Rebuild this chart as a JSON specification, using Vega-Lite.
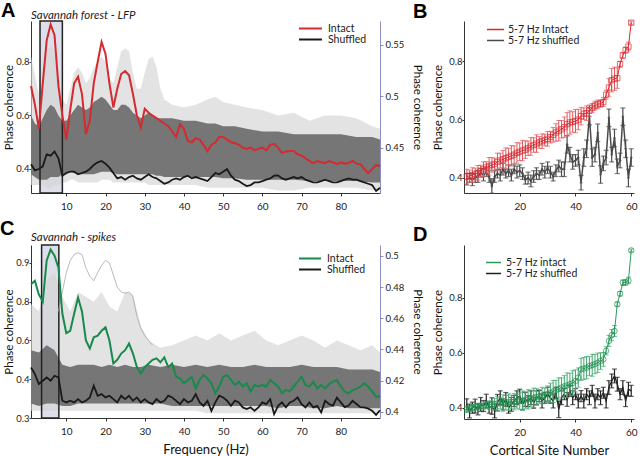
{
"$schema": "https://vega.github.io/schema/vega-lite/v6.json",
"padding": {"left": 0, "top": 1, "right": 2, "bottom": 0},
"config": {
 "view": {"stroke": null},
 "font": "Lato",
 "axis": {"grid": false, "domainColor": "#333", "tickColor": "#333", "labelFont": "Lato", "labelFontSize": 9.5, "labelColor": "#222", "titleFont": "Lato", "titleFontSize": 11.5, "titleFontWeight": "normal", "titleColor": "#111"},
 "axisY": {"tickSize": 2, "labelPadding": 0, "titlePadding": 1},
 "axisX": {"tickSize": 3, "labelPadding": 5, "labelFontSize": 10},
 "legend": {"labelFont": "Lato", "labelFontSize": 10.5, "labelColor": "#222", "symbolType": "stroke", "rowPadding": 0, "clipHeight": 9, "labelOffset": 4, "padding": 0, "title": null},
 "title": {"font": "Liberation Sans", "fontSize": 20, "fontWeight": "bold", "anchor": "start", "frame": "group", "color": "#000"}
},
"datasets": {
 "aLines": [
{"f":1,"i":0.71,"s":0.4343},{"f":2,"i":0.64,"s":0.4283},{"f":3,"i":0.55,"s":0.4296},{"f":4,"i":0.72,"s":0.4322},{"f":5,"i":0.88,"s":0.4439},{"f":6,"i":0.94,"s":0.4426},{"f":7,"i":0.9,"s":0.4465},{"f":8,"i":0.71,"s":0.44},{"f":9,"i":0.6,"s":0.4231},{"f":10,"i":0.51,"s":0.4257},
{"f":11,"i":0.62,"s":0.427},{"f":12,"i":0.72,"s":0.427},{"f":13,"i":0.745,"s":0.4244},{"f":14,"i":0.68,"s":0.4257},{"f":15,"i":0.53,"s":0.427},{"f":16,"i":0.58,"s":0.4296},{"f":17,"i":0.72,"s":0.4335},{"f":18,"i":0.8,"s":0.4361},{"f":19,"i":0.875,"s":0.4374},{"f":20,"i":0.83,"s":0.4348},
{"f":21,"i":0.72,"s":0.4309},{"f":22,"i":0.63,"s":0.4257},{"f":23,"i":0.7,"s":0.4205},{"f":24,"i":0.755,"s":0.4218},{"f":25,"i":0.766,"s":0.4192},{"f":26,"i":0.75,"s":0.4218},{"f":27,"i":0.68,"s":0.4231},{"f":28,"i":0.6,"s":0.4205},{"f":29,"i":0.555,"s":0.4192},{"f":30,"i":0.625,"s":0.4218},
{"f":31,"i":0.61,"s":0.4244},{"f":32,"i":0.6,"s":0.4218},{"f":33,"i":0.59,"s":0.4205},{"f":34,"i":0.58,"s":0.4179},{"f":35,"i":0.57,"s":0.4153},{"f":36,"i":0.56,"s":0.4166},{"f":37,"i":0.54,"s":0.4192},{"f":38,"i":0.52,"s":0.4205},{"f":39,"i":0.567,"s":0.4192},{"f":40,"i":0.55,"s":0.4218},
{"f":41,"i":0.505,"s":0.4231},{"f":42,"i":0.5,"s":0.4205},{"f":43,"i":0.515,"s":0.4218},{"f":44,"i":0.51,"s":0.4205},{"f":45,"i":0.49,"s":0.4192},{"f":46,"i":0.467,"s":0.4179},{"f":47,"i":0.49,"s":0.4218},{"f":48,"i":0.5,"s":0.4257},{"f":49,"i":0.52,"s":0.4244},{"f":50,"i":0.52,"s":0.427},
{"f":51,"i":0.51,"s":0.4296},{"f":52,"i":0.5,"s":0.4231},{"f":53,"i":0.497,"s":0.4192},{"f":54,"i":0.49,"s":0.4179},{"f":55,"i":0.48,"s":0.4153},{"f":56,"i":0.475,"s":0.413},{"f":57,"i":0.48,"s":0.414},{"f":58,"i":0.47,"s":0.4166},{"f":59,"i":0.475,"s":0.4166},{"f":60,"i":0.48,"s":0.4179},
{"f":61,"i":0.47,"s":0.4192},{"f":62,"i":0.49,"s":0.4205},{"f":63,"i":0.494,"s":0.4231},{"f":64,"i":0.48,"s":0.4234},{"f":65,"i":0.46,"s":0.4205},{"f":66,"i":0.465,"s":0.4192},{"f":67,"i":0.467,"s":0.4205},{"f":68,"i":0.467,"s":0.4218},{"f":69,"i":0.455,"s":0.4205},{"f":70,"i":0.45,"s":0.4218},
{"f":71,"i":0.44,"s":0.4192},{"f":72,"i":0.43,"s":0.4179},{"f":73,"i":0.422,"s":0.4166},{"f":74,"i":0.43,"s":0.4166},{"f":75,"i":0.425,"s":0.4179},{"f":76,"i":0.422,"s":0.4192},{"f":77,"i":0.43,"s":0.4179},{"f":78,"i":0.425,"s":0.4166},{"f":79,"i":0.418,"s":0.4166},{"f":80,"i":0.425,"s":0.4179},
{"f":81,"i":0.42,"s":0.4192},{"f":82,"i":0.422,"s":0.4205},{"f":83,"i":0.43,"s":0.4192},{"f":84,"i":0.42,"s":0.4192},{"f":85,"i":0.418,"s":0.4179},{"f":86,"i":0.4,"s":0.4166},{"f":87,"i":0.385,"s":0.4153},{"f":88,"i":0.4,"s":0.414},{"f":89,"i":0.415,"s":0.4083},{"f":90,"i":0.41,"s":0.4114}
 ],
 "aBand": [
{"f":1,"il":0.38,"ih":0.6,"ol":0.34,"oh":0.82},{"f":2,"il":0.37,"ih":0.57,"ol":0.34,"oh":0.75},{"f":3,"il":0.36,"ih":0.56,"ol":0.34,"oh":0.68},{"f":4,"il":0.36,"ih":0.59,"ol":0.34,"oh":0.78},{"f":5,"il":0.36,"ih":0.62,"ol":0.33,"oh":0.84},{"f":6,"il":0.37,"ih":0.64,"ol":0.33,"oh":0.86},{"f":7,"il":0.37,"ih":0.63,"ol":0.34,"oh":0.84},{"f":8,"il":0.37,"ih":0.6,"ol":0.34,"oh":0.76},{"f":9,"il":0.38,"ih":0.58,"ol":0.35,"oh":0.66},{"f":10,"il":0.38,"ih":0.58,"ol":0.35,"oh":0.64},
{"f":11,"il":0.39,"ih":0.6,"ol":0.36,"oh":0.7},{"f":12,"il":0.385,"ih":0.62,"ol":0.36,"oh":0.76},{"f":13,"il":0.38,"ih":0.64,"ol":0.35,"oh":0.78},{"f":14,"il":0.38,"ih":0.63,"ol":0.35,"oh":0.76},{"f":15,"il":0.38,"ih":0.62,"ol":0.35,"oh":0.72},{"f":16,"il":0.38,"ih":0.63,"ol":0.35,"oh":0.74},{"f":17,"il":0.38,"ih":0.65,"ol":0.35,"oh":0.78},{"f":18,"il":0.385,"ih":0.66,"ol":0.35,"oh":0.8},{"f":19,"il":0.39,"ih":0.67,"ol":0.36,"oh":0.82},{"f":20,"il":0.39,"ih":0.66,"ol":0.36,"oh":0.8},
{"f":21,"il":0.39,"ih":0.64,"ol":0.36,"oh":0.74},{"f":22,"il":0.385,"ih":0.62,"ol":0.35,"oh":0.72},{"f":23,"il":0.38,"ih":0.62,"ol":0.35,"oh":0.78},{"f":24,"il":0.38,"ih":0.64,"ol":0.35,"oh":0.84},{"f":25,"il":0.38,"ih":0.64,"ol":0.35,"oh":0.85},{"f":26,"il":0.38,"ih":0.63,"ol":0.35,"oh":0.84},{"f":27,"il":0.38,"ih":0.61,"ol":0.35,"oh":0.76},{"f":28,"il":0.38,"ih":0.6,"ol":0.35,"oh":0.7},{"f":29,"il":0.38,"ih":0.59,"ol":0.35,"oh":0.7},{"f":30,"il":0.38,"ih":0.6,"ol":0.35,"oh":0.76},
{"f":31,"il":0.38,"ih":0.61,"ol":0.34,"oh":0.81},{"f":32,"il":0.38,"ih":0.6,"ol":0.34,"oh":0.82},{"f":33,"il":0.375,"ih":0.59,"ol":0.34,"oh":0.78},{"f":34,"il":0.375,"ih":0.59,"ol":0.34,"oh":0.7},{"f":35,"il":0.37,"ih":0.59,"ol":0.34,"oh":0.66},{"f":37,"il":0.37,"ih":0.59,"ol":0.34,"oh":0.64},{"f":40,"il":0.37,"ih":0.58,"ol":0.34,"oh":0.63},{"f":43,"il":0.37,"ih":0.58,"ol":0.34,"oh":0.64},{"f":46,"il":0.37,"ih":0.57,"ol":0.33,"oh":0.66},{"f":48,"il":0.37,"ih":0.57,"ol":0.33,"oh":0.67},
{"f":50,"il":0.365,"ih":0.56,"ol":0.33,"oh":0.65},{"f":53,"il":0.365,"ih":0.56,"ol":0.33,"oh":0.64},{"f":56,"il":0.36,"ih":0.55,"ol":0.33,"oh":0.63},{"f":60,"il":0.36,"ih":0.54,"ol":0.33,"oh":0.62},{"f":64,"il":0.36,"ih":0.54,"ol":0.32,"oh":0.6},{"f":68,"il":0.36,"ih":0.53,"ol":0.32,"oh":0.61},{"f":72,"il":0.355,"ih":0.53,"ol":0.33,"oh":0.58},{"f":76,"il":0.355,"ih":0.53,"ol":0.33,"oh":0.6},{"f":80,"il":0.355,"ih":0.53,"ol":0.33,"oh":0.6},{"f":84,"il":0.355,"ih":0.52,"ol":0.33,"oh":0.59},{"f":88,"il":0.35,"ih":0.52,"ol":0.32,"oh":0.56},{"f":90,"il":0.35,"ih":0.51,"ol":0.32,"oh":0.55}
 ],
 "cLines": [
{"f":1,"g":0.832,"s":0.4284},{"f":2,"g":0.846,"s":0.4242},{"f":3,"g":0.79,"s":0.4178},{"f":4,"g":0.76,"s":0.4199},{"f":5,"g":0.93,"s":0.422},{"f":6,"g":0.975,"s":0.4199},{"f":7,"g":0.95,"s":0.4231},{"f":8,"g":0.9,"s":0.422},{"f":9,"g":0.71,"s":0.4071},{"f":10,"g":0.63,"s":0.406},
{"f":11,"g":0.64,"s":0.4071},{"f":12,"g":0.71,"s":0.406},{"f":13,"g":0.777,"s":0.4081},{"f":14,"g":0.72,"s":0.406},{"f":15,"g":0.6,"s":0.4071},{"f":16,"g":0.567,"s":0.4092},{"f":17,"g":0.613,"s":0.4167},{"f":18,"g":0.62,"s":0.4103},{"f":19,"g":0.64,"s":0.4113},{"f":20,"g":0.654,"s":0.4092},
{"f":21,"g":0.6,"s":0.4103},{"f":22,"g":0.505,"s":0.4081},{"f":23,"g":0.52,"s":0.406},{"f":24,"g":0.546,"s":0.4103},{"f":25,"g":0.56,"s":0.4081},{"f":26,"g":0.587,"s":0.4103},{"f":27,"g":0.546,"s":0.4071},{"f":28,"g":0.49,"s":0.4092},{"f":29,"g":0.464,"s":0.406},{"f":30,"g":0.49,"s":0.4081},
{"f":31,"g":0.505,"s":0.406},{"f":32,"g":0.52,"s":0.4049},{"f":33,"g":0.526,"s":0.4081},{"f":34,"g":0.51,"s":0.406},{"f":35,"g":0.53,"s":0.4071},{"f":36,"g":0.49,"s":0.4103},{"f":37,"g":0.505,"s":0.4092},{"f":38,"g":0.45,"s":0.4071},{"f":39,"g":0.443,"s":0.4049},{"f":40,"g":0.423,"s":0.4081},
{"f":41,"g":0.437,"s":0.406},{"f":42,"g":0.45,"s":0.4071},{"f":43,"g":0.402,"s":0.4113},{"f":44,"g":0.437,"s":0.406},{"f":45,"g":0.457,"s":0.4038},{"f":46,"g":0.443,"s":0.4071},{"f":47,"g":0.423,"s":0.4006},{"f":48,"g":0.382,"s":0.406},{"f":49,"g":0.41,"s":0.4103},{"f":50,"g":0.45,"s":0.4092},
{"f":51,"g":0.457,"s":0.4071},{"f":52,"g":0.437,"s":0.4038},{"f":53,"g":0.416,"s":0.4071},{"f":54,"g":0.43,"s":0.406},{"f":55,"g":0.41,"s":0.4028},{"f":56,"g":0.423,"s":0.4017},{"f":57,"g":0.39,"s":0.4028},{"f":58,"g":0.416,"s":0.4006},{"f":59,"g":0.41,"s":0.4028},{"f":60,"g":0.416,"s":0.406},
{"f":61,"g":0.41,"s":0.4049},{"f":62,"g":0.437,"s":0.4081},{"f":63,"g":0.423,"s":0.3985},{"f":64,"g":0.41,"s":0.4038},{"f":65,"g":0.382,"s":0.406},{"f":66,"g":0.396,"s":0.4028},{"f":67,"g":0.39,"s":0.406},{"f":68,"g":0.41,"s":0.4071},{"f":69,"g":0.43,"s":0.4092},{"f":70,"g":0.45,"s":0.4049},
{"f":71,"g":0.416,"s":0.4028},{"f":72,"g":0.41,"s":0.406},{"f":73,"g":0.43,"s":0.4028},{"f":74,"g":0.402,"s":0.4038},{"f":75,"g":0.416,"s":0.3996},{"f":76,"g":0.402,"s":0.407},{"f":77,"g":0.42,"s":0.405},{"f":78,"g":0.43,"s":0.404},{"f":79,"g":0.436,"s":0.409},{"f":80,"g":0.41,"s":0.406},
{"f":81,"g":0.39,"s":0.403},{"f":82,"g":0.382,"s":0.404},{"f":83,"g":0.395,"s":0.407},{"f":84,"g":0.4,"s":0.405},{"f":85,"g":0.41,"s":0.403},{"f":86,"g":0.423,"s":0.4028},{"f":87,"g":0.41,"s":0.402},{"f":88,"g":0.39,"s":0.4006},{"f":89,"g":0.367,"s":0.398},{"f":90,"g":0.37,"s":0.401}
 ],
 "cBand": [
{"f":1,"il":0.34,"ih":0.56,"ol":0.31,"oh":0.75},{"f":3,"il":0.33,"ih":0.55,"ol":0.31,"oh":0.72},{"f":5,"il":0.34,"ih":0.58,"ol":0.31,"oh":0.85},{"f":7,"il":0.34,"ih":0.56,"ol":0.31,"oh":0.88},{"f":9,"il":0.33,"ih":0.5,"ol":0.31,"oh":0.78},{"f":11,"il":0.33,"ih":0.49,"ol":0.31,"oh":0.72},{"f":13,"il":0.34,"ih":0.5,"ol":0.31,"oh":0.8},{"f":15,"il":0.34,"ih":0.5,"ol":0.31,"oh":0.78},{"f":17,"il":0.34,"ih":0.5,"ol":0.31,"oh":0.76},{"f":19,"il":0.34,"ih":0.49,"ol":0.31,"oh":0.8},
{"f":21,"il":0.34,"ih":0.5,"ol":0.31,"oh":0.74},{"f":23,"il":0.34,"ih":0.49,"ol":0.31,"oh":0.72},{"f":25,"il":0.34,"ih":0.5,"ol":0.31,"oh":0.8},{"f":27,"il":0.34,"ih":0.49,"ol":0.31,"oh":0.79},{"f":29,"il":0.34,"ih":0.49,"ol":0.31,"oh":0.66},{"f":31,"il":0.34,"ih":0.5,"ol":0.31,"oh":0.6},{"f":34,"il":0.34,"ih":0.49,"ol":0.31,"oh":0.57},{"f":37,"il":0.33,"ih":0.5,"ol":0.31,"oh":0.58},{"f":40,"il":0.33,"ih":0.49,"ol":0.31,"oh":0.6},{"f":43,"il":0.33,"ih":0.5,"ol":0.31,"oh":0.62},
{"f":46,"il":0.33,"ih":0.49,"ol":0.3,"oh":0.6},{"f":49,"il":0.33,"ih":0.5,"ol":0.3,"oh":0.63},{"f":52,"il":0.33,"ih":0.49,"ol":0.3,"oh":0.6},{"f":55,"il":0.33,"ih":0.49,"ol":0.3,"oh":0.62},{"f":58,"il":0.33,"ih":0.5,"ol":0.3,"oh":0.64},{"f":61,"il":0.33,"ih":0.49,"ol":0.3,"oh":0.6},{"f":64,"il":0.32,"ih":0.49,"ol":0.3,"oh":0.58},{"f":67,"il":0.33,"ih":0.49,"ol":0.3,"oh":0.6},{"f":70,"il":0.33,"ih":0.5,"ol":0.3,"oh":0.62},{"f":73,"il":0.32,"ih":0.49,"ol":0.3,"oh":0.6},
{"f":76,"il":0.32,"ih":0.49,"ol":0.3,"oh":0.57},{"f":79,"il":0.33,"ih":0.49,"ol":0.3,"oh":0.6},{"f":82,"il":0.32,"ih":0.48,"ol":0.3,"oh":0.58},{"f":85,"il":0.32,"ih":0.48,"ol":0.3,"oh":0.56},{"f":88,"il":0.32,"ih":0.48,"ol":0.3,"oh":0.58},{"f":90,"il":0.32,"ih":0.47,"ol":0.3,"oh":0.55}
 ],
 "cOut": [
{"f":8,"v":0.72},{"f":9,"v":0.8},{"f":10,"v":0.88},{"f":11,"v":0.93},{"f":12,"v":0.955},{"f":13,"v":0.962},{"f":14,"v":0.955},{"f":15,"v":0.9},{"f":16,"v":0.865},{"f":17,"v":0.846},{"f":18,"v":0.88},{"f":19,"v":0.91},{"f":20,"v":0.93},{"f":21,"v":0.92},{"f":22,"v":0.87},{"f":23,"v":0.82},{"f":24,"v":0.8},{"f":25,"v":0.795},{"f":26,"v":0.8},{"f":27,"v":0.78},{"f":28,"v":0.7},{"f":29,"v":0.65},{"f":30,"v":0.62},{"f":31,"v":0.6},{"f":32,"v":0.58}
 ],
 "bSites": [
{"n":1,"i":0.405,"ie":0.025,"s":0.396,"se":0.02},{"n":2,"i":0.407,"ie":0.02,"s":0.4,"se":0.015},{"n":3,"i":0.41,"ie":0.025,"s":0.394,"se":0.02},{"n":4,"i":0.414,"ie":0.02,"s":0.4,"se":0.015},{"n":5,"i":0.418,"ie":0.025,"s":0.405,"se":0.02},{"n":6,"i":0.424,"ie":0.02,"s":0.418,"se":0.015},{"n":7,"i":0.43,"ie":0.025,"s":0.41,"se":0.02},{"n":8,"i":0.436,"ie":0.02,"s":0.42,"se":0.015},{"n":9,"i":0.44,"ie":0.03,"s":0.405,"se":0.02},{"n":10,"i":0.445,"ie":0.025,"s":0.373,"se":0.025},
{"n":11,"i":0.448,"ie":0.02,"s":0.405,"se":0.02},{"n":12,"i":0.455,"ie":0.03,"s":0.415,"se":0.015},{"n":13,"i":0.46,"ie":0.025,"s":0.41,"se":0.02},{"n":14,"i":0.464,"ie":0.03,"s":0.43,"se":0.02},{"n":15,"i":0.468,"ie":0.035,"s":0.415,"se":0.015},{"n":16,"i":0.472,"ie":0.03,"s":0.425,"se":0.02},{"n":17,"i":0.476,"ie":0.035,"s":0.41,"se":0.02},{"n":18,"i":0.48,"ie":0.03,"s":0.43,"se":0.015},{"n":19,"i":0.486,"ie":0.035,"s":0.42,"se":0.02},{"n":20,"i":0.49,"ie":0.03,"s":0.425,"se":0.02},
{"n":21,"i":0.494,"ie":0.035,"s":0.415,"se":0.02},{"n":22,"i":0.497,"ie":0.03,"s":0.394,"se":0.015},{"n":23,"i":0.502,"ie":0.025,"s":0.4,"se":0.02},{"n":24,"i":0.508,"ie":0.03,"s":0.39,"se":0.02},{"n":25,"i":0.513,"ie":0.025,"s":0.405,"se":0.02},{"n":26,"i":0.518,"ie":0.03,"s":0.415,"se":0.02},{"n":27,"i":0.522,"ie":0.02,"s":0.41,"se":0.015},{"n":28,"i":0.526,"ie":0.025,"s":0.43,"se":0.02},{"n":29,"i":0.53,"ie":0.02,"s":0.42,"se":0.02},{"n":30,"i":0.534,"ie":0.025,"s":0.435,"se":0.02},
{"n":31,"i":0.54,"ie":0.02,"s":0.42,"se":0.02},{"n":32,"i":0.548,"ie":0.025,"s":0.405,"se":0.015},{"n":33,"i":0.556,"ie":0.03,"s":0.425,"se":0.02},{"n":34,"i":0.562,"ie":0.035,"s":0.441,"se":0.02},{"n":35,"i":0.567,"ie":0.03,"s":0.43,"se":0.025},{"n":36,"i":0.574,"ie":0.035,"s":0.43,"se":0.025},{"n":37,"i":0.584,"ie":0.04,"s":0.515,"se":0.03},{"n":38,"i":0.59,"ie":0.04,"s":0.48,"se":0.025},{"n":39,"i":0.592,"ie":0.035,"s":0.455,"se":0.025},{"n":40,"i":0.595,"ie":0.04,"s":0.46,"se":0.02},
{"n":41,"i":0.6,"ie":0.035,"s":0.47,"se":0.025},{"n":42,"i":0.612,"ie":0.03,"s":0.384,"se":0.025},{"n":43,"i":0.62,"ie":0.02,"s":0.47,"se":0.03},{"n":44,"i":0.622,"ie":0.025,"s":0.5,"se":0.03},{"n":45,"i":0.63,"ie":0.02,"s":0.612,"se":0.03},{"n":46,"i":0.64,"ie":0.015,"s":0.47,"se":0.03},{"n":47,"i":0.648,"ie":0.015,"s":0.48,"se":0.025},{"n":48,"i":0.652,"ie":0.015,"s":0.555,"se":0.03},{"n":49,"i":0.655,"ie":0.012,"s":0.412,"se":0.03},{"n":50,"i":0.66,"ie":0.015,"s":0.45,"se":0.025},
{"n":51,"i":0.685,"ie":0.015,"s":0.47,"se":0.025},{"n":52,"i":0.71,"ie":0.03,"s":0.606,"se":0.03},{"n":53,"i":0.735,"ie":0.04,"s":0.48,"se":0.025},{"n":54,"i":0.74,"ie":0.04,"s":0.537,"se":0.03},{"n":55,"i":0.742,"ie":0.035,"s":0.44,"se":0.025},{"n":56,"i":0.79,"ie":0.01,"s":0.46,"se":0.025},{"n":57,"i":0.82,"ie":0.01,"s":0.61,"se":0.03},{"n":58,"i":0.838,"ie":0.01,"s":0.5,"se":0.03},{"n":59,"i":0.85,"ie":0.015,"s":0.4,"se":0.03},{"n":60,"i":0.932,"ie":0.005,"s":0.47,"se":0.03}
 ],
 "dSites": [
{"n":1,"g":0.395,"ge":0.012,"k":0.413,"ke":0.02},{"n":2,"g":0.398,"ge":0.01,"k":0.389,"ke":0.025},{"n":3,"g":0.4,"ge":0.012,"k":0.401,"ke":0.02},{"n":4,"g":0.403,"ge":0.01,"k":0.407,"ke":0.025},{"n":5,"g":0.405,"ge":0.012,"k":0.395,"ke":0.02},{"n":6,"g":0.407,"ge":0.01,"k":0.413,"ke":0.025},{"n":7,"g":0.408,"ge":0.015,"k":0.407,"ke":0.02},{"n":8,"g":0.41,"ge":0.012,"k":0.425,"ke":0.025},{"n":9,"g":0.411,"ge":0.015,"k":0.401,"ke":0.02},{"n":10,"g":0.413,"ge":0.012,"k":0.407,"ke":0.03},
{"n":11,"g":0.414,"ge":0.02,"k":0.389,"ke":0.025},{"n":12,"g":0.416,"ge":0.025,"k":0.419,"ke":0.03},{"n":13,"g":0.417,"ge":0.02,"k":0.437,"ke":0.025},{"n":14,"g":0.418,"ge":0.03,"k":0.413,"ke":0.02},{"n":15,"g":0.42,"ge":0.025,"k":0.431,"ke":0.025},{"n":16,"g":0.421,"ge":0.03,"k":0.401,"ke":0.02},{"n":17,"g":0.422,"ge":0.025,"k":0.413,"ke":0.025},{"n":18,"g":0.423,"ge":0.03,"k":0.425,"ke":0.02},{"n":19,"g":0.424,"ge":0.025,"k":0.437,"ke":0.025},{"n":20,"g":0.425,"ge":0.03,"k":0.443,"ke":0.025},
{"n":21,"g":0.427,"ge":0.035,"k":0.413,"ke":0.02},{"n":22,"g":0.429,"ge":0.03,"k":0.431,"ke":0.025},{"n":23,"g":0.431,"ge":0.035,"k":0.425,"ke":0.02},{"n":24,"g":0.434,"ge":0.03,"k":0.437,"ke":0.025},{"n":25,"g":0.437,"ge":0.035,"k":0.419,"ke":0.02},{"n":26,"g":0.44,"ge":0.03,"k":0.437,"ke":0.025},{"n":27,"g":0.442,"ge":0.025,"k":0.443,"ke":0.02},{"n":28,"g":0.445,"ge":0.03,"k":0.425,"ke":0.025},{"n":29,"g":0.447,"ge":0.025,"k":0.437,"ke":0.02},{"n":30,"g":0.45,"ge":0.03,"k":0.45,"ke":0.025},
{"n":31,"g":0.455,"ge":0.035,"k":0.437,"ke":0.02},{"n":32,"g":0.46,"ge":0.04,"k":0.425,"ke":0.025},{"n":33,"g":0.465,"ge":0.035,"k":0.455,"ke":0.02},{"n":34,"g":0.469,"ge":0.04,"k":0.395,"ke":0.03},{"n":35,"g":0.474,"ge":0.035,"k":0.437,"ke":0.025},{"n":36,"g":0.478,"ge":0.04,"k":0.45,"ke":0.02},{"n":37,"g":0.482,"ge":0.045,"k":0.431,"ke":0.025},{"n":38,"g":0.486,"ge":0.04,"k":0.462,"ke":0.02},{"n":39,"g":0.49,"ge":0.045,"k":0.437,"ke":0.025},{"n":40,"g":0.498,"ge":0.04,"k":0.45,"ke":0.02},
{"n":41,"g":0.51,"ge":0.035,"k":0.425,"ke":0.025},{"n":42,"g":0.54,"ge":0.04,"k":0.443,"ke":0.02},{"n":43,"g":0.543,"ge":0.04,"k":0.425,"ke":0.025},{"n":44,"g":0.546,"ge":0.04,"k":0.45,"ke":0.02},{"n":45,"g":0.552,"ge":0.035,"k":0.437,"ke":0.025},{"n":46,"g":0.555,"ge":0.04,"k":0.462,"ke":0.02},{"n":47,"g":0.559,"ge":0.035,"k":0.425,"ke":0.025},{"n":48,"g":0.564,"ge":0.035,"k":0.45,"ke":0.02},{"n":49,"g":0.57,"ge":0.03,"k":0.437,"ke":0.025},{"n":50,"g":0.576,"ge":0.025,"k":0.455,"ke":0.02},
{"n":51,"g":0.607,"ge":0.015,"k":0.425,"ke":0.025},{"n":52,"g":0.643,"ge":0.02,"k":0.474,"ke":0.025},{"n":53,"g":0.664,"ge":0.02,"k":0.498,"ke":0.025},{"n":54,"g":0.679,"ge":0.02,"k":0.516,"ke":0.025},{"n":55,"g":0.776,"ge":0.008,"k":0.486,"ke":0.025},{"n":56,"g":0.814,"ge":0.008,"k":0.45,"ke":0.02},{"n":57,"g":0.854,"ge":0.01,"k":0.474,"ke":0.025},{"n":58,"g":0.855,"ge":0.01,"k":0.425,"ke":0.02},{"n":59,"g":0.862,"ge":0.012,"k":0.468,"ke":0.025},{"n":60,"g":0.971,"ge":0.005,"k":0.462,"ke":0.02}
 ]
},
"columns": 2,
"spacing": {"row": 52, "column": 84},
"bounds": "flush",
"resolve": {"scale": {"color": "independent"}},
"concat": [
   {
    "width": 349, "height": 172,
    "title": {"text": "A", "dx": -30, "offset": -11},
    "resolve": {"scale": {"y": "independent"}},
    "layer": [
     {
      "layer": [
       {"data": {"values": [{"f": 3.3, "f2": 9.0}]}, "mark": {"type": "rect", "fill": "#dde0ea"},
        "encoding": {"x": {"field": "f", "type": "quantitative", "scale": {"domain": [1, 90], "nice": false, "zero": false}, "axis": {"values": [10,20,30,40,50,60,70,80], "title": null}}, "x2": {"field": "f2"}}},
       {"data": {"name": "aBand"}, "mark": {"type": "area", "color": "#d4d4d4", "opacity": 0.65},
        "encoding": {"x": {"field": "f", "type": "quantitative"}, "y": {"field": "ol", "type": "quantitative", "scale": {"domain": [0.3103, 0.953], "nice": false, "zero": false}, "axis": {"values": [0.4, 0.6, 0.8], "format": "~g"}, "title": "Phase coherence"}, "y2": {"field": "oh"}}},
       {"data": {"name": "aBand"}, "mark": {"type": "area", "color": "#767676"},
        "encoding": {"x": {"field": "f", "type": "quantitative"}, "y": {"field": "il", "type": "quantitative", "scale": {"domain": [0.3103, 0.953], "nice": false, "zero": false}, "axis": {"values": [0.4, 0.6, 0.8], "format": "~g"}, "title": "Phase coherence"}, "y2": {"field": "ih"}}},
       {"data": {"values": [{"f": 3.3, "f2": 9.0}]}, "mark": {"type": "rect", "fill": null, "fillOpacity": 0, "stroke": "#222", "strokeWidth": 1.5},
        "encoding": {"x": {"field": "f", "type": "quantitative"}, "x2": {"field": "f2"}}},
       {"data": {"name": "aLines"}, "mark": {"type": "line", "strokeWidth": 2},
        "encoding": {"x": {"field": "f", "type": "quantitative"}, "y": {"field": "i", "type": "quantitative", "scale": {"domain": [0.3103, 0.953], "nice": false, "zero": false}, "axis": {"values": [0.4, 0.6, 0.8], "format": "~g"}, "title": "Phase coherence"},
         "color": {"datum": "Intact", "type": "nominal", "scale": {"domain": ["Intact", "Shuffled"], "range": ["#d42a30", "#1a1a1a"]}, "legend": {"orient": "none", "legendX": 267, "legendY": 3, "symbolSize": 529, "symbolStrokeWidth": 2, "labelOffset": 5}}}},
       {"data": {"values": [{"label": "Savannah forest - LFP"}]}, "mark": {"type": "text", "align": "left", "baseline": "bottom", "dy": 0, "font": "Lato", "fontStyle": "italic", "fontSize": 11.5, "color": "#222"},
        "encoding": {"text": {"field": "label", "type": "nominal"}, "x": {"datum": 1}, "y": {"datum": 0.953}}}
      ]
     },
     {"data": {"name": "aLines"}, "mark": {"type": "line", "strokeWidth": 1.8},
      "encoding": {"x": {"field": "f", "type": "quantitative"}, "y": {"field": "s", "type": "quantitative", "scale": {"domain": [0.4063, 0.5733], "nice": false, "zero": false}, "axis": {"orient": "right", "values": [0.45, 0.5, 0.55], "format": "~g", "domainColor": "#8d8dbf", "tickColor": "#8d8dbf", "tickSize": 3, "labelPadding": 2, "titlePadding": 8}, "title": "Phase coherence"},
       "color": {"datum": "Shuffled", "type": "nominal"}}}
    ]
   },
   {
    "width": 170, "height": 172,
    "title": {"text": "B", "dx": -51, "offset": -4},
    "data": {"name": "bSites"},
    "encoding": {"x": {"field": "n", "type": "quantitative", "scale": {"domain": [0, 61], "nice": false, "zero": false}, "axis": {"values": [20, 40, 60], "title": null}}},
    "layer": [
     {"mark": {"type": "errorbar", "ticks": true, "color": "#4a4a4a", "thickness": 1.2},
      "encoding": {"y": {"field": "s", "type": "quantitative", "scale": {"domain": [0.3486, 0.9377], "nice": false, "zero": false}, "axis": {"values": [0.4,0.5,0.6,0.7,0.8,0.9], "format": ".1f", "titlePadding": 5}, "title": "Phase coherence"}, "yError": {"field": "se"}}},
     {"mark": {"type": "line", "strokeWidth": 1.5},
      "encoding": {"y": {"field": "s", "type": "quantitative", "scale": {"domain": [0.3486, 0.9377], "nice": false, "zero": false}, "axis": {"values": [0.4,0.5,0.6,0.7,0.8,0.9], "format": ".1f", "titlePadding": 5}, "title": "Phase coherence"},
       "color": {"datum": "5-7 Hz shuffled", "type": "nominal", "scale": {"domain": ["5-7 Hz Intact", "5-7 Hz shuffled"], "range": ["#e0262c", "#4a4a4a"]}, "legend": {"orient": "none", "legendX": 22, "legendY": 4, "symbolSize": 289, "symbolStrokeWidth": 1.5, "labelOffset": 3}}}},
     {"mark": {"type": "point", "shape": "diamond", "filled": true, "size": 10, "color": "#4a4a4a"},
      "encoding": {"y": {"field": "s", "type": "quantitative", "scale": {"domain": [0.3486, 0.9377], "nice": false, "zero": false}, "title": "Phase coherence"}}},
     {"mark": {"type": "errorbar", "ticks": true, "color": "#e0575c", "thickness": 1},
      "encoding": {"y": {"field": "i", "type": "quantitative", "scale": {"domain": [0.3486, 0.9377], "nice": false, "zero": false}, "title": "Phase coherence"}, "yError": {"field": "ie"}}},
     {"mark": {"type": "line", "strokeWidth": 1},
      "encoding": {"y": {"field": "i", "type": "quantitative", "scale": {"domain": [0.3486, 0.9377], "nice": false, "zero": false}, "title": "Phase coherence"},
       "color": {"datum": "5-7 Hz Intact", "type": "nominal"}}},
     {"mark": {"type": "point", "shape": "square", "filled": false, "size": 28, "color": "#d42a30", "strokeWidth": 1},
      "encoding": {"y": {"field": "i", "type": "quantitative", "scale": {"domain": [0.3486, 0.9377], "nice": false, "zero": false}, "title": "Phase coherence"}}}
    ]
   },
   {
    "width": 349, "height": 173,
    "title": {"text": "C", "dx": -31, "offset": -7},
    "resolve": {"scale": {"y": "independent"}},
    "layer": [
     {
      "layer": [
       {"data": {"values": [{"f": 3.7, "f2": 8.1}]}, "mark": {"type": "rect", "fill": "#dde0ea"},
        "encoding": {"x": {"field": "f", "type": "quantitative", "scale": {"domain": [1, 90], "nice": false, "zero": false}, "axis": {"values": [10,20,30,40,50,60,70,80], "title": "Frequency (Hz)", "titleFontSize": 13, "titlePadding": 7}}, "x2": {"field": "f2"}}},
       {"data": {"name": "cBand"}, "mark": {"type": "area", "color": "#d4d4d4", "opacity": 0.65},
        "encoding": {"x": {"field": "f", "type": "quantitative"}, "y": {"field": "ol", "type": "quantitative", "scale": {"domain": [0.28, 0.994], "nice": false, "zero": false}, "axis": {"values": [0.28, 0.44, 0.6, 0.76, 0.92], "format": "~g"}, "title": "Phase coherence"}, "y2": {"field": "oh"}}},
       {"data": {"name": "cBand"}, "mark": {"type": "area", "color": "#767676"},
        "encoding": {"x": {"field": "f", "type": "quantitative"}, "y": {"field": "il", "type": "quantitative", "scale": {"domain": [0.28, 0.994], "nice": false, "zero": false}, "axis": {"values": [0.28, 0.44, 0.6, 0.76, 0.92], "format": "~g"}, "title": "Phase coherence"}, "y2": {"field": "ih"}}},
       {"data": {"values": [{"f": 3.7, "f2": 8.1}]}, "mark": {"type": "rect", "fill": null, "fillOpacity": 0, "stroke": "#222", "strokeWidth": 1.5},
        "encoding": {"x": {"field": "f", "type": "quantitative"}, "x2": {"field": "f2"}}},
       {"data": {"name": "cOut"}, "mark": {"type": "line", "strokeWidth": 0.8, "color": "#a8a8a8"},
        "encoding": {"x": {"field": "f", "type": "quantitative"}, "y": {"field": "v", "type": "quantitative", "scale": {"domain": [0.28, 0.994], "nice": false, "zero": false}, "axis": {"values": [0.28, 0.44, 0.6, 0.76, 0.92], "format": "~g"}, "title": "Phase coherence"}}},
       {"data": {"name": "cLines"}, "mark": {"type": "line", "strokeWidth": 2},
        "encoding": {"x": {"field": "f", "type": "quantitative"}, "y": {"field": "g", "type": "quantitative", "scale": {"domain": [0.28, 0.994], "nice": false, "zero": false}, "axis": {"values": [0.28, 0.44, 0.6, 0.76, 0.92], "format": "~g"}, "title": "Phase coherence"},
         "color": {"datum": "Intact", "type": "nominal", "scale": {"domain": ["Intact", "Shuffled"], "range": ["#178a4c", "#1a1a1a"]}, "legend": {"orient": "none", "legendX": 267, "legendY": 9, "symbolSize": 484, "symbolStrokeWidth": 2, "labelOffset": 5}}}},
       {"data": {"values": [{"label": "Savannah - spikes"}]}, "mark": {"type": "text", "align": "left", "baseline": "bottom", "dy": -2, "font": "Lato", "fontStyle": "italic", "fontSize": 11.5, "color": "#222"},
        "encoding": {"text": {"field": "label", "type": "nominal"}, "x": {"datum": 1}, "y": {"datum": 0.994}}}
      ]
     },
     {"data": {"name": "cLines"}, "mark": {"type": "line", "strokeWidth": 1.8},
      "encoding": {"x": {"field": "f", "type": "quantitative"}, "y": {"field": "s", "type": "quantitative", "scale": {"domain": [0.396, 0.507], "nice": false, "zero": false}, "axis": {"orient": "right", "values": [0.4, 0.42, 0.44, 0.46, 0.48, 0.5], "format": "~g", "domainColor": "#8d8dbf", "tickColor": "#8d8dbf", "tickSize": 3, "labelPadding": 2, "titlePadding": 8}, "title": "Phase coherence"},
       "color": {"datum": "Shuffled", "type": "nominal"}}}
    ]
   },
   {
    "width": 170, "height": 174,
    "title": {"text": "D", "dx": -51, "offset": 0},
    "data": {"name": "dSites"},
    "encoding": {"x": {"field": "n", "type": "quantitative", "scale": {"domain": [0, 61], "nice": false, "zero": false}, "axis": {"values": [20, 40, 60], "title": "Cortical Site Number", "titleFontSize": 13, "titlePadding": 7}}},
    "layer": [
     {"mark": {"type": "errorbar", "ticks": true, "color": "#222", "thickness": 1.2},
      "encoding": {"y": {"field": "k", "type": "quantitative", "scale": {"domain": [0.36, 0.9906], "nice": false, "zero": false}, "axis": {"values": [0.4,0.5,0.6,0.7,0.8,0.9], "format": ".1f", "titlePadding": 5}, "title": "Phase coherence"}, "yError": {"field": "ke"}}},
     {"mark": {"type": "line", "strokeWidth": 1.3},
      "encoding": {"y": {"field": "k", "type": "quantitative", "scale": {"domain": [0.36, 0.9906], "nice": false, "zero": false}, "axis": {"values": [0.4,0.5,0.6,0.7,0.8,0.9], "format": ".1f", "titlePadding": 5}, "title": "Phase coherence"},
       "color": {"datum": "5-7 Hz shuffled", "type": "nominal", "scale": {"domain": ["5-7 Hz intact", "5-7 Hz shuffled"], "range": ["#2a9a5c", "#222222"]}, "legend": {"orient": "none", "legendX": 21, "legendY": 13, "symbolSize": 225, "symbolStrokeWidth": 1.5, "labelOffset": 4}}}},
     {"mark": {"type": "errorbar", "ticks": true, "color": "#3fa86c", "thickness": 1},
      "encoding": {"y": {"field": "g", "type": "quantitative", "scale": {"domain": [0.36, 0.9906], "nice": false, "zero": false}, "title": "Phase coherence"}, "yError": {"field": "ge"}}},
     {"mark": {"type": "line", "strokeWidth": 1},
      "encoding": {"y": {"field": "g", "type": "quantitative", "scale": {"domain": [0.36, 0.9906], "nice": false, "zero": false}, "title": "Phase coherence"},
       "color": {"datum": "5-7 Hz intact", "type": "nominal"}}},
     {"mark": {"type": "point", "shape": "circle", "filled": false, "size": 30, "color": "#1f8f50", "strokeWidth": 1},
      "encoding": {"y": {"field": "g", "type": "quantitative", "scale": {"domain": [0.36, 0.9906], "nice": false, "zero": false}, "title": "Phase coherence"}}}
    ]
   }
]
}
